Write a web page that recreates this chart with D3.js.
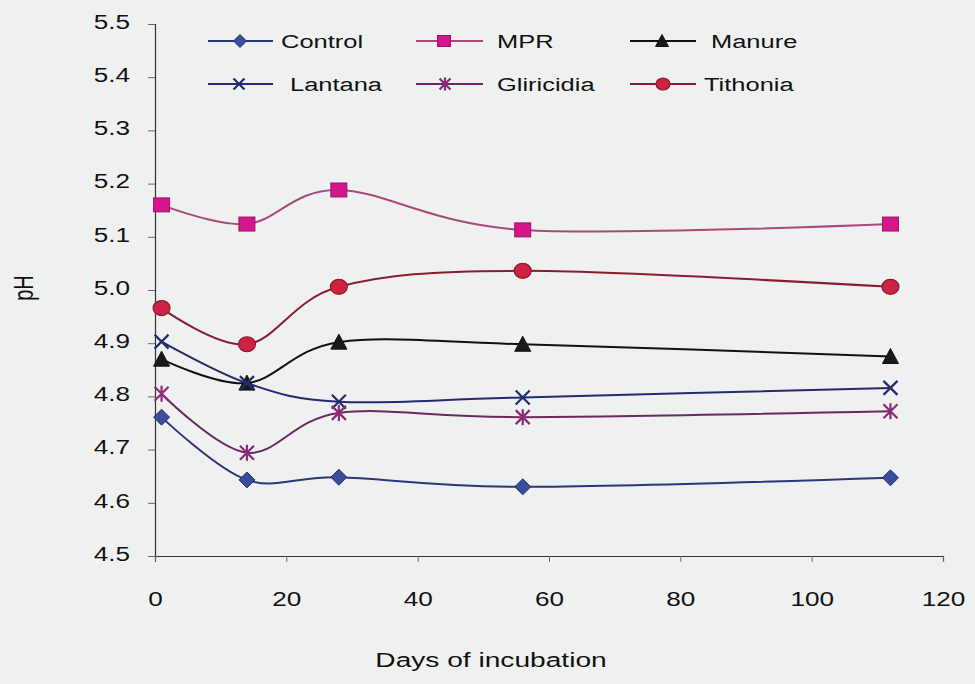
<!DOCTYPE html>
<html>
<head>
<meta charset="utf-8">
<script src="https://cdn.jsdelivr.net/npm/d3@7"></script>
<style>
  html, body { margin: 0; padding: 0; background: #eff1f0; }
  svg { display: block; }
  text { font-family: "Liberation Sans", Arial, sans-serif; fill: #111; }
</style>
</head>
<body>
<svg id="chart" width="975" height="684"></svg>
<script>
// Incubation days sampled
const days = [1, 14, 28, 56, 112];

// pH of each treatment on those days
const control    = [4.761, 4.643, 4.648, 4.630, 4.647];
const mpr        = [5.160, 5.124, 5.188, 5.113, 5.124];
const manure     = [4.870, 4.825, 4.902, 4.898, 4.875];
const lantana    = [4.903, 4.825, 4.790, 4.798, 4.816];
const gliricidia = [4.805, 4.694, 4.769, 4.761, 4.772];
const tithonia   = [4.966, 4.898, 5.006, 5.036, 5.006];

const seriesNames = ["Control", "MPR", "Manure", "Lantana", "Gliricidia", "Tithonia"];
const seriesValues = [control, mpr, manure, lantana, gliricidia, tithonia];

const xTicks = [0, 20, 40, 60, 80, 100, 120];
const yTicks = [4.5, 4.6, 4.7, 4.8, 4.9, 5.0, 5.1, 5.2, 5.3, 5.4, 5.5];

// Drawing styles per series
const styles = {
  Control:    { line: "#2c3778", fill: "#3a4c9c", stroke: "#26306c", shape: "diamond" },
  MPR:        { line: "#a84a78", fill: "#d3168c", stroke: "#a01468", shape: "square" },
  Manure:     { line: "#111111", fill: "#1a1a1a", stroke: "#111111", shape: "triangle" },
  Lantana:    { line: "#222b6e", fill: "none",    stroke: "#222b6e", shape: "cross" },
  Gliricidia: { line: "#6a2a5e", fill: "none",    stroke: "#8c2a78", shape: "asterisk" },
  Tithonia:   { line: "#8a1c30", fill: "#cc2244", stroke: "#8a1a2c", shape: "circle" }
};

const SX = 1.34; // horizontal text stretch
const svg = d3.select("#chart");

const x = d3.scaleLinear().domain([0, 120]).range([155, 943]);
const y = d3.scaleLinear().domain([4.5, 5.5]).range([556, 24]);

// Axes
const yAxis = svg.append("g")
  .attr("transform", `translate(${x(0)},0)`)
  .call(d3.axisLeft(y).tickValues(yTicks).tickSize(7).tickFormat(d3.format(".1f")));
const xAxis = svg.append("g")
  .attr("transform", `translate(0,${y(4.5)})`)
  .call(d3.axisBottom(x).tickValues(xTicks).tickSize(6).tickFormat(d3.format("d")));

[yAxis, xAxis].forEach(a => {
  a.select(".domain").attr("stroke", "#333").attr("stroke-width", 1.2);
  a.selectAll(".tick line").attr("stroke", "#666").attr("stroke-width", 1);
  a.selectAll("text").attr("font-size", 19.5).attr("fill", "#111")
    .attr("font-family", "Liberation Sans, Arial, sans-serif");
});
yAxis.selectAll(".tick text")
  .attr("x", -25 / SX).attr("dy", "0.32em")
  .attr("transform", `translate(0,-2) scale(${SX},1)`);
xAxis.selectAll(".tick text")
  .attr("y", 50).attr("dy", 0)
  .attr("transform", `scale(${SX},1)`);

// Axis titles
svg.append("text")
  .attr("transform", `translate(491,667) scale(${SX},1)`)
  .attr("text-anchor", "middle")
  .attr("font-size", 21)
  .text("Days of incubation");
svg.append("text")
  .attr("transform", `translate(33,288) scale(${SX},1) rotate(-90)`)
  .attr("text-anchor", "middle")
  .attr("font-size", 20)
  .text("pH");

// Marker drawing
function marker(g, shape, st, cx, cy, s) {
  const h = s / 2;
  if (shape === "diamond") {
    g.append("path").attr("d", `M${cx},${cy - h - 1}L${cx + h + 1},${cy}L${cx},${cy + h + 1}L${cx - h - 1},${cy}Z`)
      .attr("fill", st.fill).attr("stroke", st.stroke).attr("stroke-width", 1);
  } else if (shape === "square") {
    g.append("rect").attr("x", cx - h - 1).attr("y", cy - h).attr("width", s + 2).attr("height", s)
      .attr("fill", st.fill).attr("stroke", st.stroke).attr("stroke-width", 1);
  } else if (shape === "triangle") {
    g.append("path").attr("d", `M${cx},${cy - h - 1}L${cx + h + 1},${cy + h}L${cx - h - 1},${cy + h}Z`)
      .attr("fill", st.fill).attr("stroke", st.stroke).attr("stroke-width", 1);
  } else if (shape === "cross") {
    g.append("path").attr("d", `M${cx - h},${cy - h}L${cx + h},${cy + h}M${cx - h},${cy + h}L${cx + h},${cy - h}`)
      .attr("fill", "none").attr("stroke", st.stroke).attr("stroke-width", 2.2);
  } else if (shape === "asterisk") {
    g.append("path").attr("d", `M${cx - h},${cy - h}L${cx + h},${cy + h}M${cx - h},${cy + h}L${cx + h},${cy - h}M${cx},${cy - h - 1}L${cx},${cy + h + 1}`)
      .attr("fill", "none").attr("stroke", st.stroke).attr("stroke-width", 2.2);
  } else if (shape === "circle") {
    g.append("ellipse").attr("cx", cx).attr("cy", cy).attr("rx", h + 1.5).attr("ry", h + 0.5)
      .attr("fill", st.fill).attr("stroke", st.stroke).attr("stroke-width", 1.2);
  }
}

// Series lines and markers
const line = d3.line()
  .x(d => x(d[0]))
  .y(d => y(d[1]))
  .curve(d3.curveCardinal.tension(0));

seriesNames.forEach((name, i) => {
  const st = styles[name];
  const pts = days.map((d, j) => [d, seriesValues[i][j]]);
  const g = svg.append("g");
  g.append("path").datum(pts)
    .attr("d", line)
    .attr("fill", "none")
    .attr("stroke", st.line)
    .attr("stroke-width", 2);
  pts.forEach(p => marker(g, st.shape, st, x(p[0]), y(p[1]), 14));
});

// Legend
const legendPos = [
  { x1: 208, x2: 273, mx: 240, tx: 281, y: 41 },
  { x1: 416, x2: 483, mx: 444, tx: 497, y: 41 },
  { x1: 630, x2: 696, mx: 662, tx: 711, y: 41 },
  { x1: 208, x2: 273, mx: 239, tx: 290, y: 84 },
  { x1: 416, x2: 483, mx: 445, tx: 497, y: 84 },
  { x1: 630, x2: 696, mx: 663, tx: 704, y: 84 }
];
seriesNames.forEach((name, i) => {
  const st = styles[name];
  const p = legendPos[i];
  const g = svg.append("g");
  g.append("line").attr("x1", p.x1).attr("x2", p.x2).attr("y1", p.y).attr("y2", p.y)
    .attr("stroke", st.line).attr("stroke-width", 2);
  marker(g, st.shape, st, p.mx, p.y, 11);
  g.append("text")
    .attr("transform", `translate(${p.tx},${p.y + 7}) scale(${SX},1)`)
    .attr("font-size", 19)
    .text(name);
});
</script>
</body>
</html>
